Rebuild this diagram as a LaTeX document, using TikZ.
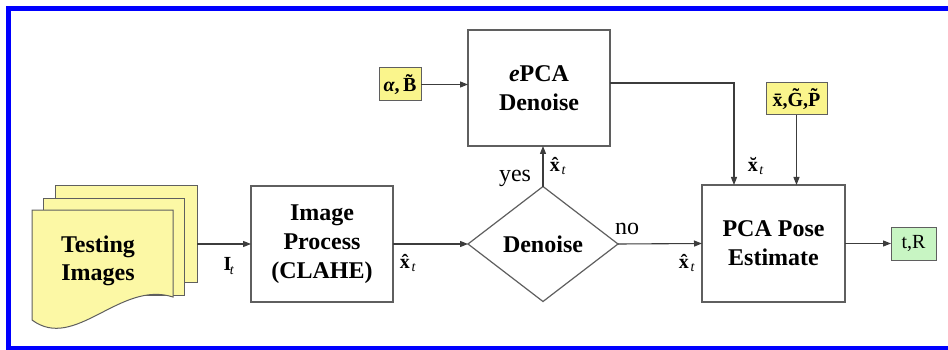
\documentclass[tikz,border=0pt]{standalone}
\usepackage{fontspec}
\setmainfont{Liberation Serif}
\usetikzlibrary{arrows.meta,shapes.geometric}

\definecolor{docyellow}{RGB}{252,248,165}
\definecolor{tagyellow}{RGB}{250,245,140}
\definecolor{resgreen}{RGB}{200,245,195}
\definecolor{edgegray}{RGB}{95,95,95}
\definecolor{linkgray}{RGB}{60,60,60}
\definecolor{frameblue}{RGB}{0,0,255}

% subscripted vector labels
\newcommand{\vlab}[2]{\textbf{#1}\kern-1.5pt\textsubscript{\textit{#2}}}

\begin{document}
\begin{tikzpicture}[x=1pt,y=-1pt,
  every node/.style={inner sep=0pt, outer sep=0pt},
  bigfont/.style={font=\fontsize{24}{29}\selectfont\bfseries},
  procbox/.style={draw=edgegray, line width=1.2pt, fill=white, align=center, bigfont},
  decision/.style={diamond, draw=edgegray, line width=1.2pt, fill=white, align=center,
    bigfont, minimum width=150, minimum height=115, shape aspect=1.3},
  page/.style={draw=edgegray, line width=1pt, fill=docyellow},
  tagbox/.style={draw=edgegray, line width=1pt, fill=tagyellow,
    font=\fontsize{20}{24}\selectfont\bfseries},
  resbox/.style={draw=edgegray, line width=1pt, fill=resgreen,
    font=\fontsize{20}{24}\selectfont},
  lab/.style={font=\fontsize{20}{24}\selectfont},
  word/.style={font=\fontsize{24}{29}\selectfont},
  link/.style={draw=linkgray, line width=1.1pt, -{Triangle[length=8pt,width=6pt]}}
]
\useasboundingbox (0,0) rectangle (948,350);

% outer frame
\draw[frameblue, line width=4.5] (948,8.5) -- (8.5,8.5) -- (8.5,348.5) -- (948,348.5);

% stack of input documents
\node[page, minimum width=142, minimum height=97] (pgback) at (126,233.5) {};
\node[page, minimum width=141, minimum height=97] (pgmid) at (113.5,246.5) {};
\draw[page] (32,210) -- (173,210) -- (173,297)
  .. controls (120,280) and (75,352) .. (32,320) -- cycle;
\node[bigfont, align=center] (docs) at (98,261) {Testing\\[-1pt]Images};

% processing blocks
\node[procbox, minimum width=142, minimum height=116] (imgproc) at (322,244)
  {Image\\Process\\(CLAHE)};
\node[decision] (dec) at (543,244) {Denoise};
\node[procbox, minimum width=142, minimum height=116] (epca) at (539,88)
  {\textit{e}PCA\\Denoise};
\node[procbox, minimum width=143, minimum height=117] (pose) at (773.5,243.5)
  {PCA Pose\\Estimate};

% parameter inputs and result
\node[tagbox, minimum width=42, minimum height=33] (alpha) at (400,84.5)
  {\textit{α},\,\~{B}};
\node[tagbox, minimum width=61, minimum height=32] (xgp) at (796.5,99)
  {\={x},\~{G},\~{P}};
\node[resbox, minimum width=45, minimum height=33] (res) at (913.5,243.5) {t,R};

% connectors
\coordinate (poseA) at (734,185);
\draw[link] (pgback.east |- imgproc.west) -- (imgproc.west);
\draw[link] (imgproc.east) -- (dec.west);
\draw[link] (dec.north) -- (dec.north |- epca.south);
\draw[link] (dec.east) -- (pose.west);
\draw[link] (alpha.east) -- (alpha.east -| epca.west);
\draw[link] ([yshift=5]epca.east) -| (poseA);
\draw[link] (xgp.south) -- (xgp.south |- pose.north);
\draw[link] (pose.east) -- (res.west);

% connector labels
\node[lab] (lIt) at (229,266) {\vlab{I}{t}};
\node[lab] (lx1) at (408,263) {\vlab{\^{x}}{t}};
\node[lab] (lx2) at (558,166) {\vlab{\^{x}}{t}};
\node[lab] (lx3) at (687,263) {\vlab{\^{x}}{t}};
\node[lab] (lx4) at (756,166) {\vlab{\u{x}}{t}};
\node[word] (lyes) at (515,178) {yes};
\node[word] (lno) at (627,229) {no};
\end{tikzpicture}
\end{document}
